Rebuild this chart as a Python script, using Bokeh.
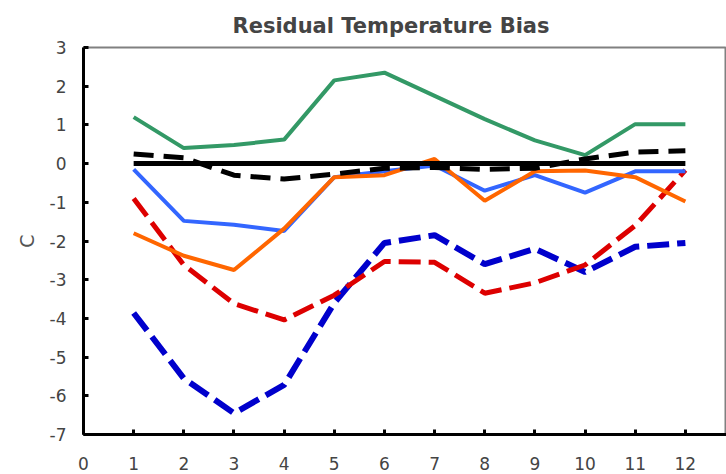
from bokeh.plotting import figure
from bokeh.models import Range1d, FixedTicker
from bokeh.embed import file_html
from bokeh.resources import INLINE

# ---- data ----
months = [1, 2, 3, 4, 5, 6, 7, 8, 9, 10, 11, 12]
x_ticks = [0, 1, 2, 3, 4, 5, 6, 7, 8, 9, 10, 11, 12]
y_ticks = [-7, -6, -5, -4, -3, -2, -1, 0, 1, 2, 3]

green_solid = [1.2, 0.4, 0.48, 0.62, 2.15, 2.35, 1.75, 1.15, 0.6, 0.22, 1.02, 1.02]
black_solid = [0, 0, 0, 0, 0, 0, 0, 0, 0, 0, 0, 0]
black_dashed = [0.25, 0.15, -0.3, -0.4, -0.27, -0.12, -0.1, -0.15, -0.12, 0.12, 0.3, 0.33]
blue_solid = [-0.15, -1.48, -1.58, -1.74, -0.35, -0.2, -0.05, -0.7, -0.3, -0.75, -0.2, -0.2]
orange_solid = [-1.8, -2.38, -2.75, -1.68, -0.35, -0.3, 0.12, -0.96, -0.2, -0.18, -0.35, -0.98]
red_dashed = [-0.9, -2.62, -3.62, -4.04, -3.4, -2.53, -2.55, -3.35, -3.08, -2.62, -1.6, -0.17]
navy_dashed = [-3.86, -5.55, -6.45, -5.72, -3.6, -2.05, -1.85, -2.6, -2.2, -2.8, -2.15, -2.05]

p = figure(width=726, height=474, output_backend="svg", toolbar_location=None,
           x_range=Range1d(0, 12.82), y_range=Range1d(-7, 3),
           min_border_left=83, min_border_right=0, min_border_top=47,
           min_border_bottom=40, background_fill_color="white",
           border_fill_color="white")

p.title.text = "Residual Temperature Bias"
p.title.text_font = "DejaVu Sans"
p.title.text_font_style = "bold"
p.title.text_font_size = "21px"
p.title.align = "left"
p.title.offset = 149
p.title.standoff = 19

p.grid.visible = False
p.outline_line_color = "#808080"
p.outline_line_width = 2

for ax in (p.xaxis[0], p.yaxis[0]):
    ax.axis_line_color = "black"
    ax.axis_line_width = 3
    ax.major_tick_line_color = "black"
    ax.major_tick_line_width = 3
    ax.major_tick_in = 5
    ax.major_tick_out = 0
    ax.minor_tick_line_color = None
    ax.major_label_text_font = "DejaVu Sans"
    ax.major_label_text_font_size = "17px"
    ax.major_label_text_color = "#444444"

p.xaxis.ticker = FixedTicker(ticks=x_ticks)
p.yaxis.ticker = FixedTicker(ticks=y_ticks)
p.yaxis.major_label_overrides = {t: str(t) for t in y_ticks}
p.xaxis.major_label_standoff = 22
p.yaxis.major_label_standoff = 17
p.yaxis.axis_label = "C"
p.yaxis.axis_label_text_font = "DejaVu Sans"
p.yaxis.axis_label_text_font_style = "normal"
p.yaxis.axis_label_text_font_size = "19px"
p.yaxis.axis_label_text_color = "#555555"
p.yaxis.axis_label_standoff = 9

p.line(months, navy_dashed, line_color="#0000CC", line_width=6, line_dash="22 8")
p.line(months, red_dashed, line_color="#DD0000", line_width=5, line_dash="22 8")
p.line(months, blue_solid, line_color="#3366FF", line_width=4)
p.line(months, orange_solid, line_color="#FF6600", line_width=4)
p.line(months, green_solid, line_color="#339966", line_width=4)
p.line(months, black_dashed, line_color="black", line_width=5, line_dash="20 10")
p.line(months, black_solid, line_color="black", line_width=5)

open("out.html", "w").write(file_html(p, INLINE))
